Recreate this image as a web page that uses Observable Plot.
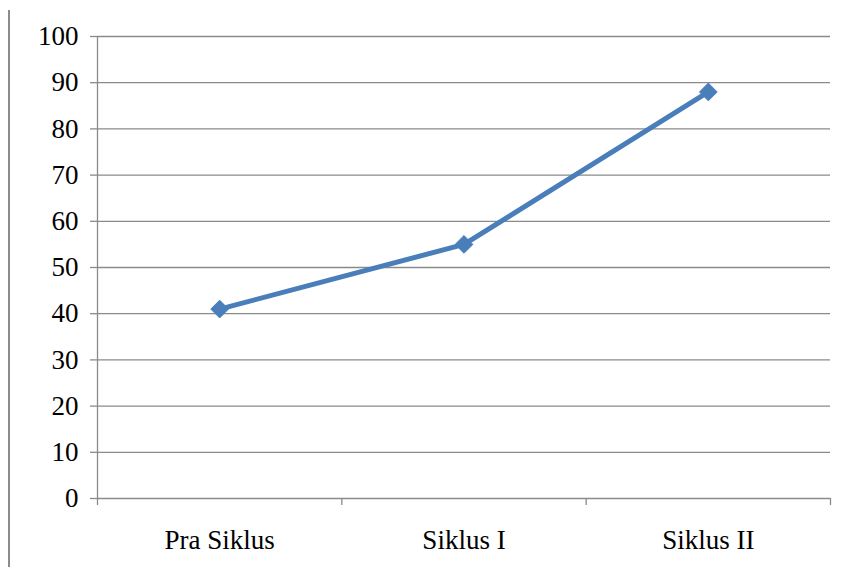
<!DOCTYPE html>
<html><head><meta charset="utf-8">
<script src="https://cdn.jsdelivr.net/npm/d3@7"></script>
<script src="https://cdn.jsdelivr.net/npm/@observablehq/plot@0.6"></script>
<style>
body{margin:0;background:#fff;}
#wrap{position:relative;width:846px;height:567px;overflow:hidden;}
#edge{position:absolute;left:8px;top:10px;width:2px;height:560px;background:#8c8c8c;}
#wrap svg, #wrap svg g, #wrap svg text{font-family:"Liberation Serif","Times New Roman",serif !important;font-size:27px !important;}
#wrap svg text{fill:#000;}
</style>
</head><body>
<div id="wrap"><div id="edge"></div></div>
<script>
const categories = ["Pra Siklus", "Siklus I", "Siklus II"];
const values = [41, 55, 88];
const yTicks = [0,10,20,30,40,50,60,70,80,90,100];

const data = categories.map((c, i) => ({i, c, v: values[i]}));
const bounds = d3.range(categories.length + 1).map(k => k - 0.5);
const grid = "#8a8a8a";

const chart = Plot.plot({
  width: 846, height: 567,
  marginLeft: 97, marginRight: 16, marginTop: 36, marginBottom: 69,
  style: {background: "transparent", fontSize: "27px", fontFamily: "Liberation Serif, serif"},
  x: {type: "linear", domain: [-0.5, categories.length - 0.5]},
  y: {domain: [0, 100]},
  marks: [
    Plot.gridY(yTicks, {stroke: grid, strokeOpacity: 1, strokeWidth: 1.3}),
    Plot.ruleX([-0.5], {y1: 0, y2: 100, stroke: grid, strokeWidth: 1.3}),
    Plot.axisY(yTicks, {tickSize: 7, tickPadding: 12, stroke: grid, strokeWidth: 1.3, label: null, tickFormat: d => d}),
    Plot.axisX(bounds, {tickSize: 7, stroke: grid, strokeWidth: 1.3, tickFormat: () => "", label: null}),
    Plot.axisX(d3.range(categories.length), {tickSize: 0, tickPadding: 31, tickFormat: i => categories[i], label: null}),
    Plot.line(data, {x: "i", y: "v", stroke: "#4a7ebb", strokeWidth: 5}),
    Plot.dot(data, {x: "i", y: "v", symbol: "diamond2", r: 8, fill: "#4a7ebb", stroke: "#4a7ebb", strokeWidth: 1})
  ]
});
document.getElementById("wrap").appendChild(chart);
</script>
</body></html>
